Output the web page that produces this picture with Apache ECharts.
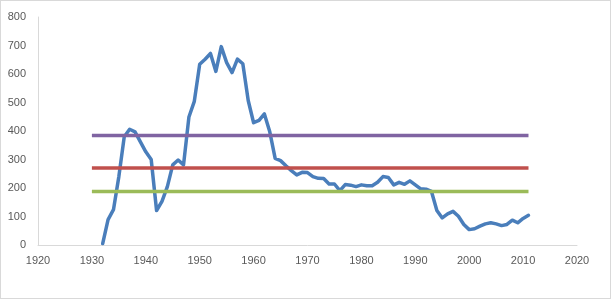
<!DOCTYPE html>
<html>
<head>
<meta charset="utf-8">
<script src="https://cdn.jsdelivr.net/npm/echarts@6/dist/echarts.min.js"></script>
<style>
html, body { margin: 0; padding: 0; background: #fff; }
#chart { width: 611px; height: 299px; box-sizing: border-box; border: 1px solid #d9d9d9; }
</style>
</head>
<body>
<div id="chart"></div>
<script>
// 年份和数值
var years = [1932, 1933, 1934, 1935, 1936, 1937, 1938, 1939, 1940, 1941,
    1942, 1943, 1944, 1945, 1946, 1947, 1948, 1949, 1950, 1951,
    1952, 1953, 1954, 1955, 1956, 1957, 1958, 1959, 1960, 1961,
    1962, 1963, 1964, 1965, 1966, 1967, 1968, 1969, 1970, 1971,
    1972, 1973, 1974, 1975, 1976, 1977, 1978, 1979, 1980, 1981,
    1982, 1983, 1984, 1985, 1986, 1987, 1988, 1989, 1990, 1991,
    1992, 1993, 1994, 1995, 1996, 1997, 1998, 1999, 2000, 2001,
    2002, 2003, 2004, 2005, 2006, 2007, 2008, 2009, 2010, 2011];
var values = [5, 89, 124, 240, 380, 406, 397, 362, 327, 300,
    121, 153, 205, 281, 298, 281, 449, 504, 634, 652,
    672, 609, 696, 640, 605, 652, 636, 507, 429, 437,
    460, 397, 304, 296, 278, 261, 246, 255, 254, 240,
    234, 233, 214, 214, 191, 212, 210, 205, 211, 208,
    208, 220, 240, 237, 211, 220, 213, 225, 211, 197,
    196, 188, 121, 95, 109, 118, 101, 72, 54, 57,
    66, 74, 78, 74, 68, 72, 87, 78, 93, 104];

// 三条水平线
var levelNames = ['upper', 'middle', 'lower'];
var levelValues = [384, 270, 188];
var levelColors = ['#8064a2', '#c0504d', '#9bbb59'];
var levelStart = 1930, levelEnd = 2011;

let chart = echarts.init(document.getElementById('chart'));

let series = [];
levelValues.forEach(function (v, i) {
    series.push({
        name: levelNames[i],
        type: 'line',
        data: [[levelStart, v], [levelEnd, v]],
        showSymbol: false,
        lineStyle: { color: levelColors[i], width: 3.5 },
        z: 3
    });
});
series.push({
    name: 'value',
    type: 'line',
    data: years.map(function (y, i) { return [y, values[i]]; }),
    showSymbol: false,
    lineStyle: { color: '#4a7ebb', width: 3.5, join: 'round', cap: 'round' },
    z: 2
});

let axisLabel = { color: '#595959', fontSize: 11, fontFamily: 'Liberation Sans' };

chart.setOption({
    animation: false,
    grid: { left: 37, right: 33, top: 16, bottom: 53 },
    xAxis: {
        type: 'value',
        min: 1920, max: 2020, interval: 10,
        axisLine: { lineStyle: { color: '#d9d9d9', width: 1 } },
        axisTick: { show: false },
        splitLine: { show: false },
        axisLabel: Object.assign({ margin: 10, formatter: function (v) { return String(v); } }, axisLabel)
    },
    yAxis: {
        type: 'value',
        min: 0, max: 800, interval: 100,
        axisLine: { show: true, lineStyle: { color: '#d9d9d9', width: 1 } },
        axisTick: { show: false },
        splitLine: { show: false },
        axisLabel: Object.assign({ margin: 12 }, axisLabel)
    },
    series: series
});
</script>
</body>
</html>
